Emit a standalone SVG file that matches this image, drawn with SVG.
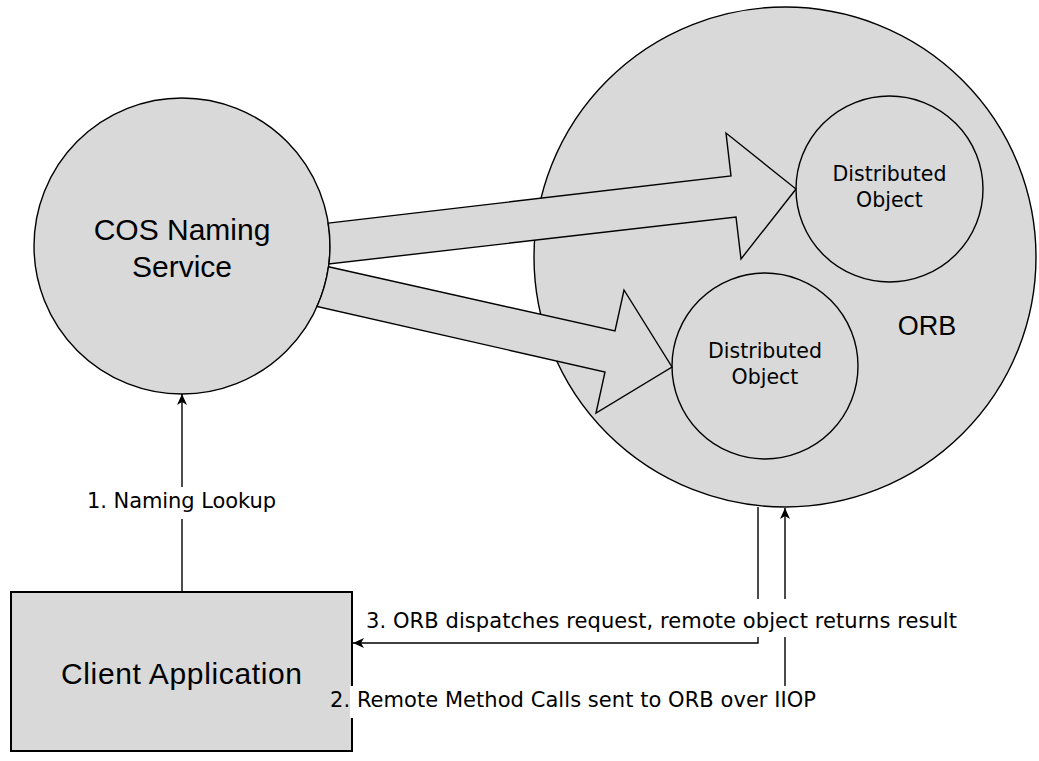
<svg xmlns="http://www.w3.org/2000/svg" width="1039" height="761" viewBox="0 0 1039 761">
<style>
.shape{fill:#d9d9d9;stroke:#000;stroke-width:1.4}
.box{fill:#d9d9d9;stroke:#000;stroke-width:2}
.big{font-family:"Liberation Sans",Arial,sans-serif;font-size:30px;fill:#000;text-anchor:middle}
.mid{font-family:"DejaVu Sans",sans-serif;font-size:20.5px;fill:#000;text-anchor:middle}
.lbl{font-family:"DejaVu Sans",sans-serif;font-size:21px;fill:#000}
.ln{fill:none;stroke:#000;stroke-width:1.4}
.bg{fill:#fff;stroke:none}
</style>
<defs>
<marker id="ah" markerUnits="userSpaceOnUse" markerWidth="12" markerHeight="10" refX="11" refY="5" orient="auto">
<path d="M0,0 L11,5 L0,10 L3,5 Z" fill="#000"/>
</marker>
</defs>
<rect width="1039" height="761" fill="#fff"/>
<g id="orb">
<ellipse class="shape" cx="785" cy="257" rx="251" ry="250"/>
<text class="big" x="927" y="335" style="font-size:27px">ORB</text>
</g>
<g id="do1">
<ellipse class="shape" cx="889.5" cy="189" rx="93.5" ry="93"/>
<text class="mid" x="889.5" y="181">Distributed</text>
<text class="mid" x="889.5" y="207">Object</text>
</g>
<g id="do2">
<ellipse class="shape" cx="765" cy="366" rx="93" ry="93"/>
<text class="mid" x="765" y="358">Distributed</text>
<text class="mid" x="765" y="384">Object</text>
</g>
<g id="cos">
<circle class="shape" cx="182" cy="246" r="148"/>
<text class="big" x="182" y="240">COS Naming</text>
<text class="big" x="182" y="277">Service</text>
</g>
<g id="client">
<rect class="box" x="11" y="592" width="341" height="159"/>
<text class="big" x="181.5" y="684" textLength="241">Client Application</text>
</g>
<g id="connectors">
<path class="shape" d="M328.2,223.1 L731,176 L726,133 L796,189 L741,259 L736,217 L328.9,264 A148,148 0 0 0 328.2,223.1 Z"/>
<path class="shape" d="M328.5,266.7 L615,331 L624,290 L672,367 L596,413 L605,372 L317,306.5 A148,148 0 0 0 328.5,266.7 Z"/>
<line class="ln" x1="182" y1="592" x2="182" y2="394" marker-end="url(#ah)"/>
<polyline class="ln" points="352,702 785,702 785,508" marker-end="url(#ah)"/>
<polyline class="ln" points="758,507 758,643 353,643" marker-end="url(#ah)"/>
<rect class="bg" x="84" y="487" width="196" height="32"/>
<text class="lbl" x="87" y="508" textLength="189">1. Naming Lookup</text>
<rect class="bg" x="362" y="599" width="600" height="38"/>
<text class="lbl" x="366" y="628" textLength="591">3. ORB dispatches request, remote object returns result</text>
<rect class="bg" x="350" y="686" width="472" height="32"/>
<text class="lbl" x="330" y="707" textLength="486">2. Remote Method Calls sent to ORB over IIOP</text>
</g>
</svg>
